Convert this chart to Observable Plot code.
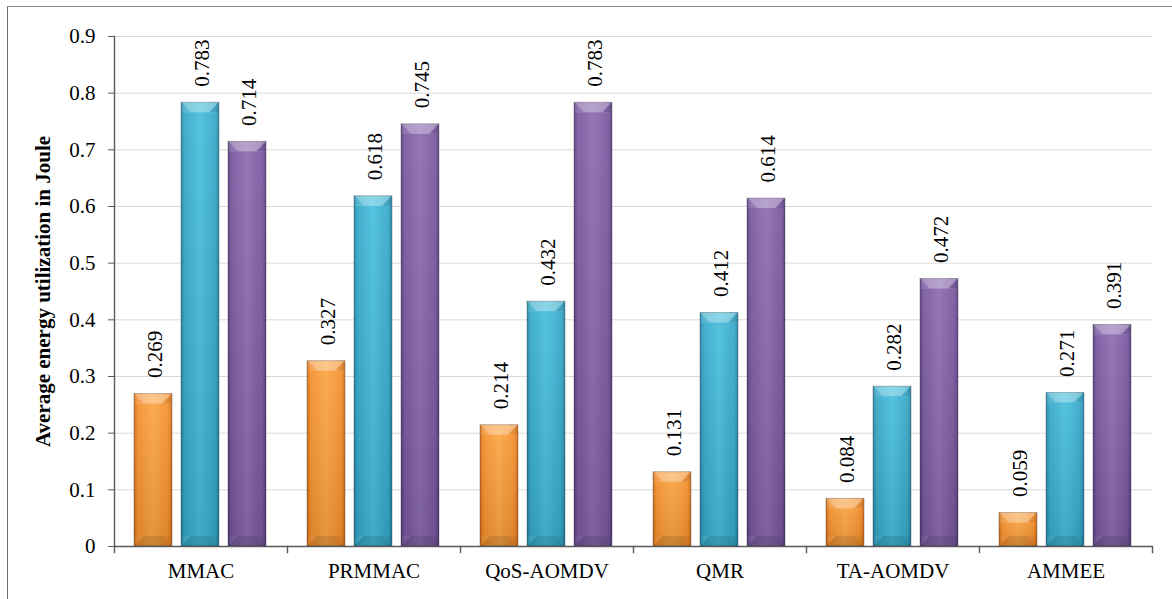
<!DOCTYPE html>
<html>
<head>
<meta charset="utf-8">
<script src="https://cdn.jsdelivr.net/npm/d3@7"></script>
<script src="https://cdn.jsdelivr.net/npm/@observablehq/plot@0.6"></script>
<style>
  html, body { margin: 0; padding: 0; background: #fff; overflow: hidden; }
  #wrap { position: relative; width: 1172px; height: 599px; }
  #border { position: absolute; left: 7px; top: 6px; width: 1180px; height: 620px;
            border-left: 1px solid #6e6e6e; border-top: 1px solid #8a8a8a; pointer-events: none; }
  #chart svg { display: block; }
</style>
</head>
<body>
<div id="wrap">
  <div id="chart"></div>
  <div id="border"></div>
</div>
<script>
// Protocols compared
const categories = ["MMAC", "PRMMAC", "QoS-AOMDV", "QMR", "TA-AOMDV", "AMMEE"];
const seriesNames = ["Series 1", "Series 2", "Series 3"];

// Average energy utilization (Joule) per protocol
const series1 = [0.269, 0.327, 0.214, 0.131, 0.084, 0.059];
const series2 = [0.783, 0.618, 0.432, 0.412, 0.282, 0.271];
const series3 = [0.714, 0.745, 0.783, 0.614, 0.472, 0.391];

const yTicks = [0, 0.1, 0.2, 0.3, 0.4, 0.5, 0.6, 0.7, 0.8, 0.9];
const yLabel = "Average energy utilization in Joule";

// Bar shading: [edge, body, highlight]
const palette = {
  "Series 1": ["#d26d18", "#f58f2b", "#fba646"],
  "Series 2": ["#2784a4", "#34a9c9", "#47bedd"],
  "Series 3": ["#583f7f", "#79579f", "#8c6cb2"]
};

const rows = [];
[series1, series2, series3].forEach((vals, s) => {
  vals.forEach((v, i) => rows.push({category: categories[i], series: seriesNames[s], value: v}));
});

const W = 1172, H = 599;
const M = {top: 36, right: 20, bottom: 53, left: 113};
const plotH = H - M.top - M.bottom;
const bevelH = 10;
const axisColor = "#5a5a5a";
const gradId = (s) => "grad-" + s.replace(/\s+/g, "");

const chart = Plot.plot({
  width: W,
  height: H,
  marginTop: M.top,
  marginRight: M.right,
  marginBottom: M.bottom,
  marginLeft: M.left,
  style: {fontFamily: "'Liberation Serif', 'Times New Roman', serif", fontSize: "21px", color: "#000", background: "transparent"},
  fx: {domain: categories, padding: 0, label: null},
  x: {domain: seriesNames, paddingInner: 0.1875, paddingOuter: 0.398, axis: null},
  y: {domain: [0, 0.9], label: null},
  color: {domain: seriesNames, range: seriesNames.map(s => `url(#${gradId(s)})`)},
  marks: [
    Plot.gridY(yTicks, {stroke: "#d9d9d9", strokeOpacity: 1, strokeWidth: 1}),
    Plot.axisY(yTicks, {tickFormat: d => String(d), tickSize: 6, tickPadding: 13, stroke: axisColor, fill: "#000", label: null}),
    Plot.axisFx({anchor: "bottom", tickSize: 0, tickPadding: 17, label: null, fill: "#000"}),
    // bars
    Plot.barY(rows, {fx: "category", x: "series", y: "value", fill: "series", stroke: "#000", strokeOpacity: 0.28, strokeWidth: 1}),
    // bottom darkening
    Plot.barY(rows, {fx: "category", x: "series", y: "value", fill: "url(#shade)"}),
    // top bevel
    Plot.barY(rows, {fx: "category", x: "series", y1: "value", y2: "value", insetBottom: -bevelH, insetLeft: 0.5, insetRight: 0.5, fill: "url(#bevel-top)"}),
    // bottom bevel
    Plot.barY(rows, {fx: "category", x: "series", y1: 0, y2: 0, insetTop: -bevelH, insetLeft: 0.5, insetRight: 0.5, fill: "url(#bevel-bottom)"}),
    // value labels
    Plot.text(rows, {fx: "category", x: "series", y: "value", text: d => d3.format(".3f")(d.value),
      rotate: -90, textAnchor: "start", dy: -16, dx: 2, fill: "#000"}),
    // axis lines and category boundary ticks
    Plot.ruleY([0], {stroke: axisColor, strokeWidth: 1.4}),
    Plot.frame({anchor: "left", facetAnchor: "left", stroke: axisColor, strokeWidth: 1.4}),
    Plot.frame({anchor: "left", insetTop: plotH, insetBottom: -6, stroke: axisColor, strokeWidth: 1.4}),
    Plot.frame({anchor: "right", facetAnchor: "right", insetTop: plotH, insetBottom: -6, stroke: axisColor, strokeWidth: 1.4}),
    // y axis title
    Plot.text([yLabel], {frameAnchor: "left", facetAnchor: "left", textAnchor: "middle", rotate: -90, dx: -71, fontWeight: "bold", fill: "#000"})
  ]
});

// gradient and bevel definitions used by the bar fills
const defs = d3.select(chart).insert("defs", ":first-child");
seriesNames.forEach(s => {
  const [edge, body, hi] = palette[s];
  const g = defs.append("linearGradient").attr("id", gradId(s)).attr("x1", 0).attr("x2", 1).attr("y1", 0).attr("y2", 0);
  [[0, edge], [0.1, body], [0.5, hi], [0.9, body], [1, edge]].forEach(([o, c]) =>
    g.append("stop").attr("offset", o).attr("stop-color", c));
});
const shade = defs.append("linearGradient").attr("id", "shade").attr("x1", 0).attr("x2", 0).attr("y1", 0).attr("y2", 1);
shade.append("stop").attr("offset", 0).attr("stop-color", "#fff").attr("stop-opacity", 0.08);
shade.append("stop").attr("offset", 1).attr("stop-color", "#000").attr("stop-opacity", 0.1);

// bevel faces drawn in bounding-box units: a trapezoid face with triangular sides
function bevelPattern(id, face, sides) {
  const p = defs.append("pattern").attr("id", id)
    .attr("patternUnits", "objectBoundingBox").attr("patternContentUnits", "objectBoundingBox")
    .attr("width", 1).attr("height", 1);
  sides.forEach(([pts, color, op]) => p.append("polygon").attr("points", pts).attr("fill", color).attr("fill-opacity", op));
  p.append("polygon").attr("points", face[0]).attr("fill", face[1]).attr("fill-opacity", face[2]);
}
bevelPattern("bevel-top",
  ["0,0 1,0 0.75,1 0.25,1", "#fff", 0.32],
  [["0,0 0.25,1 0,1", "#fff", 0.1], ["1,0 1,1 0.75,1", "#000", 0.08]]);
bevelPattern("bevel-bottom",
  ["0.25,0 0.75,0 1,1 0,1", "#000", 0.1],
  [["0,0 0.25,0 0,1", "#fff", 0.05], ["0.75,0 1,0 1,1", "#000", 0.05]]);

document.getElementById("chart").appendChild(chart);
</script>
</body>
</html>
